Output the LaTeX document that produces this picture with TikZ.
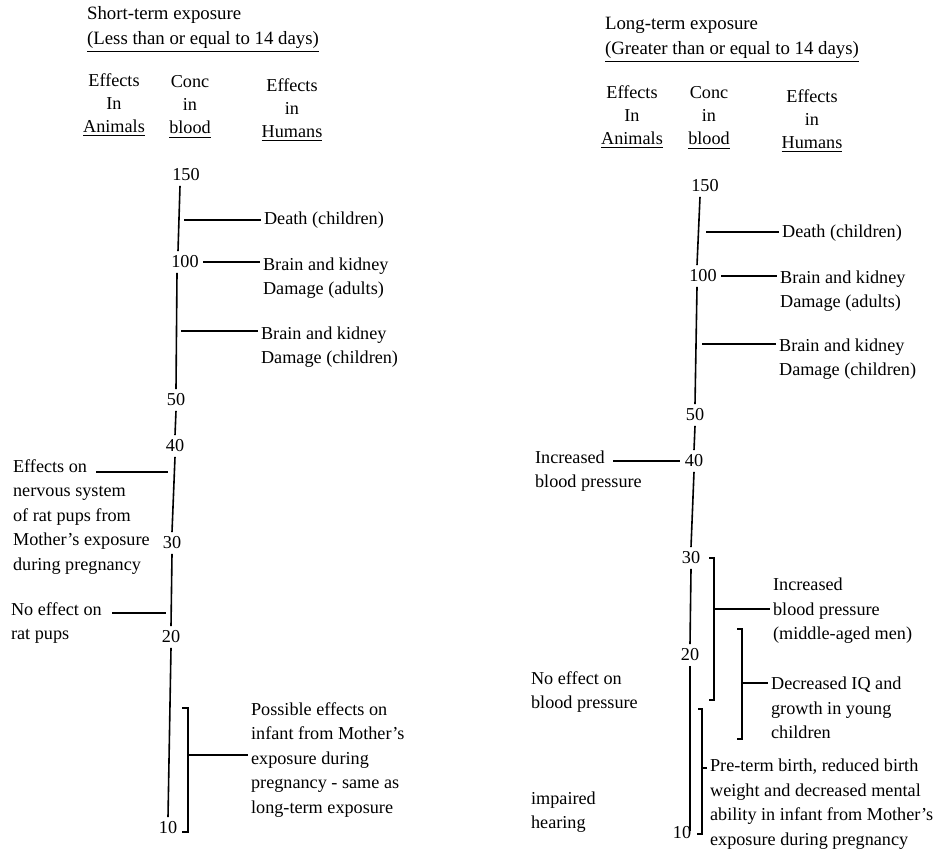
\documentclass[tikz,border=0pt]{standalone}
\usepackage{fontspec}
\setmainfont{Liberation Serif}
\begin{document}
\begin{tikzpicture}[x=0.5pt,y=-0.5pt,line width=0.7pt,
    font=\fontsize{9.1}{12.25}\selectfont]
    \tikzset{
        num/.style={inner sep=2pt},
        lbl/.style={anchor=west,align=left,inner xsep=1.2pt,inner ysep=0pt},
        ttl/.style={lbl,font=\fontsize{9.4}{12.5}\selectfont},
        head/.style={align=center,inner sep=0pt,
            font=\fontsize{9.1}{11.5}\selectfont},
        tick/.style={line width=0.55pt},
        axis/.style={line width=0.8pt}
    }
    \useasboundingbox (0,0) rectangle (941,866);

    % ---------------- short-term exposure ----------------
    \node[ttl] (stitle) at (84,30)
        {Short-term exposure\\\underline{(Less than or equal to 14 days)}};
    \node[head] (sanim) at (114,105) {Effects\\In\\\underline{Animals}};
    \node[head] (sconc) at (190,107) {Conc\\in\\\underline{blood}};
    \node[head] (shum) at (292,110) {Effects\\in\\\underline{Humans}};

    \node[num] (s150) at (186,175) {150};
    \node[num] (s100) at (185,262) {100};
    \node[num] (s50) at (176,400) {50};
    \node[num] (s40) at (175,446) {40};
    \node[num] (s30) at (172,543) {30};
    \node[num] (s20) at (171,637) {20};
    \node[num] (s10) at (168,828) {10};

    \draw[axis] ([xshift=-3pt]s150.south) -- ([xshift=-3.5pt]s100.north);
    \draw[axis] ([xshift=-4pt]s100.south) -- (s50.north);
    \draw[axis] (s50.south) -- (s40.north);
    \draw[axis] (s40.south) -- (s30.north);
    \draw[axis] (s30.south) -- (s20.north);
    \draw[axis] (s20.south) -- (s10.north);

    \node[lbl] (sdeath) at (261,220) {Death (children)};
    \node[lbl] (sadult) at (260,278) {Brain and kidney\\Damage (adults)};
    \node[lbl] (schild) at (258,347) {Brain and kidney\\Damage (children)};
    \node[lbl] (sposs) at (248,760)
        {Possible effects on\\infant from Mother’s\\exposure during\\
         pregnancy - same as\\long-term exposure};
    \node[lbl] (srat) at (10,517)
        {Effects on\\nervous system\\of rat pups from\\Mother’s exposure\\
         during pregnancy};
    \node[lbl] (sno) at (8,623) {No effect on\\rat pups};

    \coordinate (sd) at (184,220);
    \coordinate (sc) at (181,331);
    \draw[tick] (sd) -- (sd -| sdeath.west);
    \draw[tick] (s100.east) -- (s100.east -| sadult.west);
    \draw[tick] (sc) -- (sc -| schild.west);

    \coordinate (sra) at (96,472);
    \coordinate (srb) at (168,472);
    \draw[tick] (sra) -- (srb);
    \coordinate (sna) at (112,613);
    \coordinate (snb) at (166,613);
    \draw[tick] (sna) -- (snb);

    % bracket
    \draw (182,708) -- ++(6,0) -- ++(0,124) -- ++(-6,0);
    \coordinate (sb) at (188,755);
    \draw[tick] (sb) -- (sb -| sposs.west);

    % ---------------- long-term exposure ----------------
    \node[ttl] (ltitle) at (602,40)
        {Long-term exposure\\\underline{(Greater than or equal to 14 days)}};
    \node[head] (lanim) at (632,117) {Effects\\In\\\underline{Animals}};
    \node[head] (lconc) at (709,118) {Conc\\in\\\underline{blood}};
    \node[head] (lhum) at (812,121) {Effects\\in\\\underline{Humans}};

    \node[num] (r150) at (705,186) {150};
    \node[num] (r100) at (703,276) {100};
    \node[num] (r50) at (695,415) {50};
    \node[num] (r40) at (694,461) {40};
    \node[num] (r30) at (691,558) {30};
    \node[num] (r20) at (690,655) {20};
    \node[num] (r10) at (682,833) {10};

    \draw[axis] ([xshift=-2.5pt]r150.south) -- ([xshift=-3pt]r100.north);
    \draw[axis] ([xshift=-3pt]r100.south) -- (r50.north);
    \draw[axis] (r50.south) -- (r40.north);
    \draw[axis] (r40.south) -- (r30.north);
    \draw[axis] (r30.south) -- (r20.north);
    \draw[axis] (r20.south) -- ([yshift=1pt]r20.south |- r10.center);

    \node[lbl] (ldeath) at (779,233) {Death (children)};
    \node[lbl] (ladult) at (777,291) {Brain and kidney\\Damage (adults)};
    \node[lbl] (lchild) at (776,359) {Brain and kidney\\Damage (children)};
    \node[lbl] (lmen) at (770,611)
        {Increased\\blood pressure\\(middle-aged men)};
    \node[lbl] (liq) at (768,708)
        {Decreased IQ and\\growth in young\\children};
    \node[lbl] (lpre) at (707,804)
        {Pre-term birth, reduced birth\\weight and decreased mental\\
         ability in infant from Mother’s\\exposure during pregnancy};
    \node[lbl] (lbp) at (532,471) {Increased\\blood pressure};
    \node[lbl] (lnobp) at (528,692) {No effect on\\blood pressure};
    \node[lbl] (limp) at (528,812) {impaired\\hearing};

    \coordinate (ld) at (706,232);
    \coordinate (lc) at (702,344);
    \draw[tick] (ld) -- (ld -| ldeath.west);
    \draw[tick] (r100.east) -- (r100.east -| ladult.west);
    \draw[tick] (lc) -- (lc -| lchild.west);
    \coordinate (lba) at (613,461);
    \draw[tick] (lba) -- (r40.west);

    % brackets
    \draw (709,558) -- ++(5,0) -- ++(0,142) -- ++(-5,0);
    \draw (737,629) -- ++(5,0) -- ++(0,110) -- ++(-5,0);
    \draw (698,709) -- ++(4,0) -- ++(0,125) -- ++(-5,0);
    \coordinate (lb1) at (714,609);
    \coordinate (lb2) at (742,683);
    \coordinate (lb3) at (702,768);
    \draw[tick] (lb1) -- (lb1 -| lmen.west);
    \draw[tick] (lb2) -- (lb2 -| liq.west);
    \draw[tick] (lb3) -- (lb3 -| lpre.west);
\end{tikzpicture}
\end{document}
